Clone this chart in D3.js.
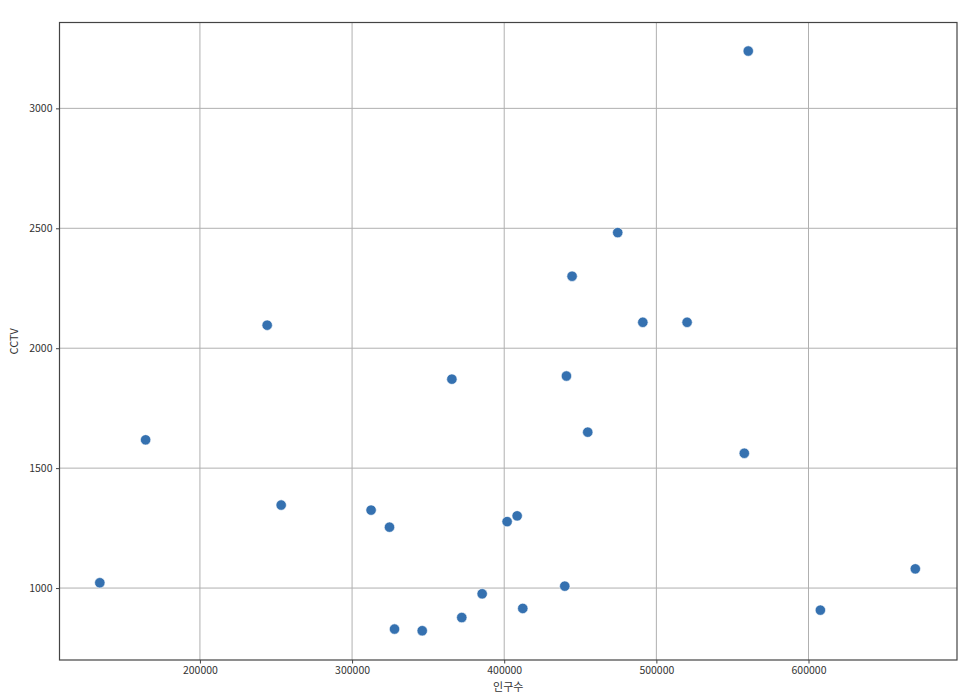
<!DOCTYPE html>
<html>
<head>
<meta charset="utf-8">
<script src="https://cdn.jsdelivr.net/npm/d3@7"></script>
<style>
  body { margin: 0; background: #fff; }
  .axis text { font-family: "Noto Sans CJK KR", "Noto Sans", sans-serif; font-size: 10.5px; fill: #333; }
  .axis path, .axis line { stroke: #444; }
  .grid line { stroke: #b0b0b0; stroke-width: 1; }
  .axis-title { font-family: "Noto Sans CJK KR", "Noto Sans", sans-serif; font-size: 11px; fill: #333; }
</style>
</head>
<body>
<svg id="chart"></svg>
<script>
// population (인구수) and CCTV counts
const population = [134200, 164300, 253400, 244200, 365600, 440900, 454900, 312500, 324600,
  401900, 408500, 439800, 385500, 412200, 372100, 327900, 346100, 557800, 607800, 670200,
  474600, 444600, 491100, 520200, 560400];
const cctv = [1022, 1618, 1346, 2096, 1871, 1884, 1650, 1325, 1254,
  1277, 1301, 1008, 976, 915, 877, 829, 822, 1562, 908, 1080,
  2482, 2300, 2108, 2108, 3239];
const xTicks = [200000, 300000, 400000, 500000, 600000];
const yTicks = [1000, 1500, 2000, 2500, 3000];

const W = 970, H = 699;
const margin = {top: 22.5, right: 13, bottom: 39, left: 59.5};
const width = W - margin.left - margin.right;
const height = H - margin.top - margin.bottom;

const svg = d3.select('#chart').attr('width', W).attr('height', H);
const chart = svg.append('g').attr('transform', `translate(${margin.left},${margin.top})`);

const xScale = d3.scaleLinear().domain([107700, 697600]).range([0, width]);
const yScale = d3.scaleLinear().domain([700, 3358]).range([height, 0]);

// grid
chart.append('g').attr('class', 'grid')
  .selectAll('line.v').data(xTicks).join('line')
  .attr('x1', d => xScale(d)).attr('x2', d => xScale(d))
  .attr('y1', 0).attr('y2', height);
chart.append('g').attr('class', 'grid')
  .selectAll('line.h').data(yTicks).join('line')
  .attr('x1', 0).attr('x2', width)
  .attr('y1', d => yScale(d)).attr('y2', d => yScale(d));

// frame
chart.append('rect').attr('width', width).attr('height', height)
  .attr('fill', 'none').attr('stroke', '#444').attr('stroke-width', 1.2);

const xAxis = d3.axisBottom(xScale).tickValues(xTicks).tickFormat(d3.format('d')).tickSizeOuter(0).tickSize(3.5).tickPadding(3.5);
const yAxis = d3.axisLeft(yScale).tickValues(yTicks).tickFormat(d3.format('d')).tickSizeOuter(0).tickSize(3.5).tickPadding(3.5);

chart.append('g').attr('class', 'axis').attr('transform', `translate(0,${height})`).call(xAxis)
  .call(g => g.select('.domain').remove());
chart.append('g').attr('class', 'axis').call(yAxis)
  .call(g => g.select('.domain').remove());

// points
const points = population.map((p, i) => ({x: p, y: cctv[i]}));
chart.selectAll('.dot').data(points).join('circle')
  .attr('class', 'dot')
  .attr('cx', d => xScale(d.x))
  .attr('cy', d => yScale(d.y))
  .attr('r', 5.2)
  .attr('fill', '#3571b0')
  .attr('stroke', '#fff')
  .attr('stroke-width', 0.6);

svg.append('text').attr('class', 'axis-title')
  .attr('x', margin.left + width / 2).attr('y', 691)
  .attr('text-anchor', 'middle').text('인구수');
svg.append('text').attr('class', 'axis-title')
  .attr('transform', `translate(18,${margin.top + height / 2}) rotate(-90)`)
  .attr('text-anchor', 'middle').text('CCTV');
</script>
</body>
</html>
